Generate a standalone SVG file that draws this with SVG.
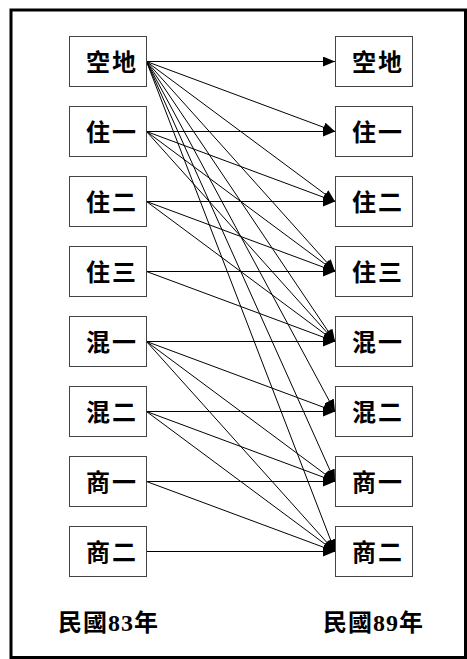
<svg xmlns="http://www.w3.org/2000/svg" width="467" height="659" viewBox="0 0 467 659">
<style>
.frame{fill:none;stroke:#000;stroke-width:3}
.box{fill:#fff;stroke:#444;stroke-width:1}
.lbl{font-family:"Liberation Serif","Noto Sans CJK TC",serif;font-weight:bold;font-size:24px;letter-spacing:2px;fill:#000;text-anchor:middle}
.yr{font-family:"Liberation Serif","Noto Sans CJK TC",serif;font-weight:bold;font-size:24px;letter-spacing:1px;fill:#000}
.edges line{stroke:#000;stroke-width:1;marker-end:url(#ah)}
</style>
<defs>
<marker id="ah" markerUnits="userSpaceOnUse" markerWidth="12" markerHeight="10" refX="12" refY="5" orient="auto">
<path d="M0,0 L12,5 L0,10 z" fill="#000"/>
</marker>
</defs>
<rect width="467" height="659" fill="#fff"/>
<rect class="frame" x="11" y="10" width="454.5" height="647.5"/>
<g class="edges">
<line x1="146.5" y1="61.5" x2="335" y2="61.5"/>
<line x1="146.5" y1="61.5" x2="335" y2="131.5"/>
<line x1="146.5" y1="61.5" x2="335" y2="201.5"/>
<line x1="146.5" y1="61.5" x2="335" y2="271.5"/>
<line x1="146.5" y1="61.5" x2="335" y2="341.5"/>
<line x1="146.5" y1="61.5" x2="335" y2="411.5"/>
<line x1="146.5" y1="61.5" x2="335" y2="481.5"/>
<line x1="146.5" y1="61.5" x2="335" y2="551.5"/>
<line x1="146.5" y1="131.5" x2="335" y2="131.5"/>
<line x1="146.5" y1="131.5" x2="335" y2="201.5"/>
<line x1="146.5" y1="131.5" x2="335" y2="271.5"/>
<line x1="146.5" y1="131.5" x2="335" y2="341.5"/>
<line x1="146.5" y1="201.5" x2="335" y2="201.5"/>
<line x1="146.5" y1="201.5" x2="335" y2="271.5"/>
<line x1="146.5" y1="201.5" x2="335" y2="341.5"/>
<line x1="146.5" y1="271.5" x2="335" y2="271.5"/>
<line x1="146.5" y1="271.5" x2="335" y2="341.5"/>
<line x1="146.5" y1="341.5" x2="335" y2="341.5"/>
<line x1="146.5" y1="341.5" x2="335" y2="411.5"/>
<line x1="146.5" y1="341.5" x2="335" y2="481.5"/>
<line x1="146.5" y1="341.5" x2="335" y2="551.5"/>
<line x1="146.5" y1="411.5" x2="335" y2="411.5"/>
<line x1="146.5" y1="411.5" x2="335" y2="481.5"/>
<line x1="146.5" y1="411.5" x2="335" y2="551.5"/>
<line x1="146.5" y1="481.5" x2="335" y2="481.5"/>
<line x1="146.5" y1="481.5" x2="335" y2="551.5"/>
<line x1="146.5" y1="551.5" x2="335" y2="551.5"/>
</g>
<g id="L0"><rect class="box" x="69.5" y="36.5" width="77" height="50"/><text class="lbl" x="112" y="70.5">空地</text></g>
<g id="L1"><rect class="box" x="69.5" y="106.5" width="77" height="50"/><text class="lbl" x="112" y="140.5">住一</text></g>
<g id="L2"><rect class="box" x="69.5" y="176.5" width="77" height="50"/><text class="lbl" x="112" y="210.5">住二</text></g>
<g id="L3"><rect class="box" x="69.5" y="246.5" width="77" height="50"/><text class="lbl" x="112" y="280.5">住三</text></g>
<g id="L4"><rect class="box" x="69.5" y="316.5" width="77" height="50"/><text class="lbl" x="112" y="350.5">混一</text></g>
<g id="L5"><rect class="box" x="69.5" y="386.5" width="77" height="50"/><text class="lbl" x="112" y="420.5">混二</text></g>
<g id="L6"><rect class="box" x="69.5" y="456.5" width="77" height="50"/><text class="lbl" x="112" y="490.5">商一</text></g>
<g id="L7"><rect class="box" x="69.5" y="526.5" width="77" height="50"/><text class="lbl" x="112" y="560.5">商二</text></g>
<g id="R0"><rect class="box" x="335.5" y="36.5" width="77" height="50"/><text class="lbl" x="378" y="70.5">空地</text></g>
<g id="R1"><rect class="box" x="335.5" y="106.5" width="77" height="50"/><text class="lbl" x="378" y="140.5">住一</text></g>
<g id="R2"><rect class="box" x="335.5" y="176.5" width="77" height="50"/><text class="lbl" x="378" y="210.5">住二</text></g>
<g id="R3"><rect class="box" x="335.5" y="246.5" width="77" height="50"/><text class="lbl" x="378" y="280.5">住三</text></g>
<g id="R4"><rect class="box" x="335.5" y="316.5" width="77" height="50"/><text class="lbl" x="378" y="350.5">混一</text></g>
<g id="R5"><rect class="box" x="335.5" y="386.5" width="77" height="50"/><text class="lbl" x="378" y="420.5">混二</text></g>
<g id="R6"><rect class="box" x="335.5" y="456.5" width="77" height="50"/><text class="lbl" x="378" y="490.5">商一</text></g>
<g id="R7"><rect class="box" x="335.5" y="526.5" width="77" height="50"/><text class="lbl" x="378" y="560.5">商二</text></g>
<text class="yr" x="58" y="631">民國83年</text>
<text class="yr" x="323" y="631">民國89年</text>
</svg>
